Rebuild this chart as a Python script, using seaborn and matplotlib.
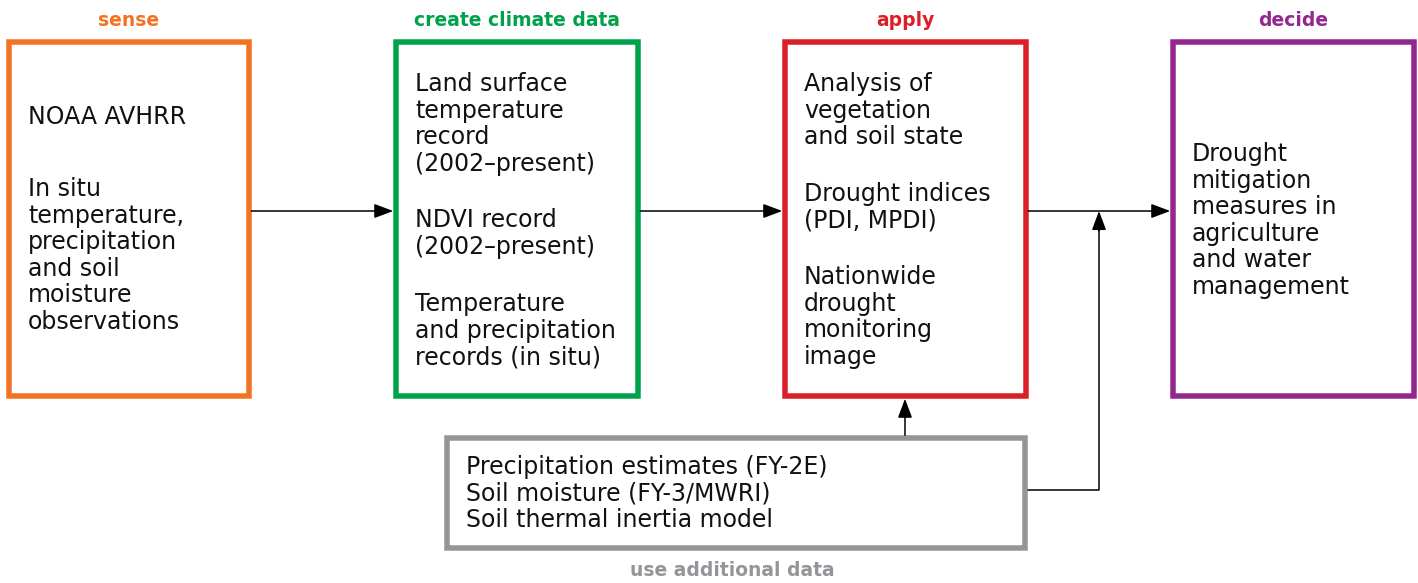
import matplotlib
matplotlib.use("Agg")
import matplotlib.pyplot as plt
import seaborn as sns
import pandas as pd
from matplotlib.patches import Rectangle

# ---- content ----
stage_titles = ["sense", "create climate data", "apply", "decide"]
stage_colors = ["#F47322", "#00A14B", "#DB1F26", "#93278F"]
extra_title = "use additional data"
extra_color = "#939598"

box_paragraphs = [
    [["NOAA AVHRR"],
     ["In situ", "temperature,", "precipitation", "and soil", "moisture", "observations"]],
    [["Land surface", "temperature", "record", "(2002\u2013present)"],
     ["NDVI record", "(2002\u2013present)"],
     ["Temperature", "and precipitation", "records (in situ)"]],
    [["Analysis of", "vegetation", "and soil state"],
     ["Drought indices", "(PDI, MPDI)"],
     ["Nationwide", "drought", "monitoring", "image"]],
    [["Drought", "mitigation", "measures in", "agriculture", "and water", "management"]],
]
extra_lines = ["Precipitation estimates (FY-2E)", "Soil moisture (FY-3/MWRI)",
               "Soil thermal inertia model"]

# ---- layout (pixel space) ----
W, H = 1418, 583
box_x0 = [9, 396, 785, 1173]
box_x1 = [248.5, 637.5, 1025.5, 1414]
box_y0, box_y1 = 42, 396
para_y = [[117, 189], [84, 220, 304], [84, 194, 277], [154]]
text_pad = 19
line_h = 26.6
ex_x0, ex_x1, ex_y0, ex_y1 = 447, 1025, 438, 548
ex_text_y = 467
bw = 5.5
lw_box = bw * 72 / 100
body_fs = 17
head_fs = 13.5

sns.set_theme(style="white")
plt.rcParams['font.family'] = ['DejaVu Sans']

fig = plt.figure(figsize=(W / 100, H / 100), dpi=100)
ax = fig.add_axes([0, 0, 1, 1])
ax.set_xlim(0, W)
ax.set_ylim(H, 0)
ax.axis("off")

def box(x0, x1, y0, y1, color):
    ax.add_patch(Rectangle((x0, y0), x1 - x0, y1 - y0, fill=False,
                           edgecolor=color, linewidth=lw_box, joinstyle="miter"))

for i, (title, col) in enumerate(zip(stage_titles, stage_colors)):
    box(box_x0[i], box_x1[i], box_y0, box_y1, col)
    ax.text((box_x0[i] + box_x1[i]) / 2, 21, title, color=col, fontsize=head_fs,
            fontweight="bold", ha="center", va="center")
    for p, lines in enumerate(box_paragraphs[i]):
        for k, line in enumerate(lines):
            ax.text(box_x0[i] + text_pad, para_y[i][p] + k * line_h, line,
                    fontsize=body_fs, color="#111111", ha="left", va="center")

box(ex_x0, ex_x1, ex_y0, ex_y1, extra_color)
for k, line in enumerate(extra_lines):
    ax.text(ex_x0 + text_pad, ex_text_y + k * line_h, line, fontsize=body_fs,
            color="#111111", ha="left", va="center")
ax.text(732, 571, extra_title, color=extra_color, fontsize=head_fs,
        fontweight="bold", ha="center", va="center")

# connectors
arrow_y = 211
conn_x = 1099
conn_y = 489.5
lw_line = 1.1
half = bw / 2

conn = pd.DataFrame({"x": [ex_x1 + half, conn_x, conn_x],
                     "y": [conn_y, conn_y, arrow_y + 14]})
sns.lineplot(data=conn, x="x", y="y", sort=False, estimator=None,
             color="black", linewidth=lw_line, ax=ax)

aprops = dict(arrowstyle="-|>,head_length=0.4,head_width=0.15", color="black",
              lw=lw_line, shrinkA=0, shrinkB=0, mutation_scale=29)
for i in range(3):
    ax.annotate("", xy=(box_x0[i + 1] - half, arrow_y), xytext=(box_x1[i] + half, arrow_y),
                arrowprops=aprops)
# arrow up from extra box to apply box
ax.annotate("", xy=(905, box_y1 + half), xytext=(905, ex_y0 - half), arrowprops=aprops)
# arrow up into main line
ax.annotate("", xy=(conn_x, arrow_y), xytext=(conn_x, arrow_y + 20), arrowprops=aprops)

fig.savefig("out.png", dpi=100, facecolor="white")
